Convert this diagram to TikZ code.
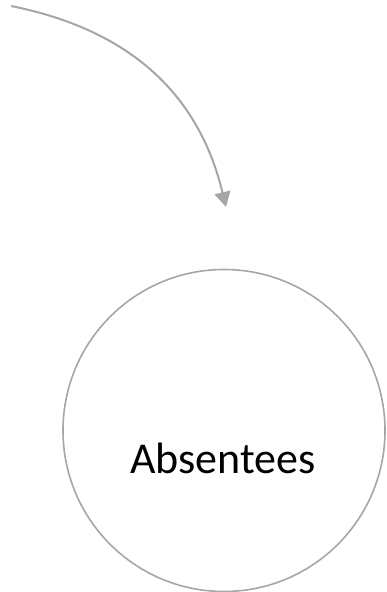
\documentclass[tikz,border=0pt]{standalone}
\usepackage{fontspec}
\setmainfont{Carlito}
\usetikzlibrary{arrows.meta}
\definecolor{linegray}{HTML}{A6A6A6}
\tikzset{
  circ/.style={circle, draw=linegray, line width=1.6pt, minimum size=322pt, inner sep=0pt},
  conn/.style={draw=linegray, line width=2pt, -{Triangle[length=15pt,width=16pt]}},
  lbl/.style={font=\fontsize{44}{52}\selectfont, text=black, inner sep=0pt}
}
\begin{document}
\begin{tikzpicture}[x=1pt,y=-1pt]
\useasboundingbox (0,0) rectangle (386,592);
\node[circ] (c) at (224,430.5) {};
\node[lbl, anchor=base] (t) at (223,473) {Absentees};
\coordinate (s) at (11,6);
\coordinate (e) at (226,207);
\draw[conn] (s) .. controls (131,30) and (199,95) .. (e);
\end{tikzpicture}
\end{document}
